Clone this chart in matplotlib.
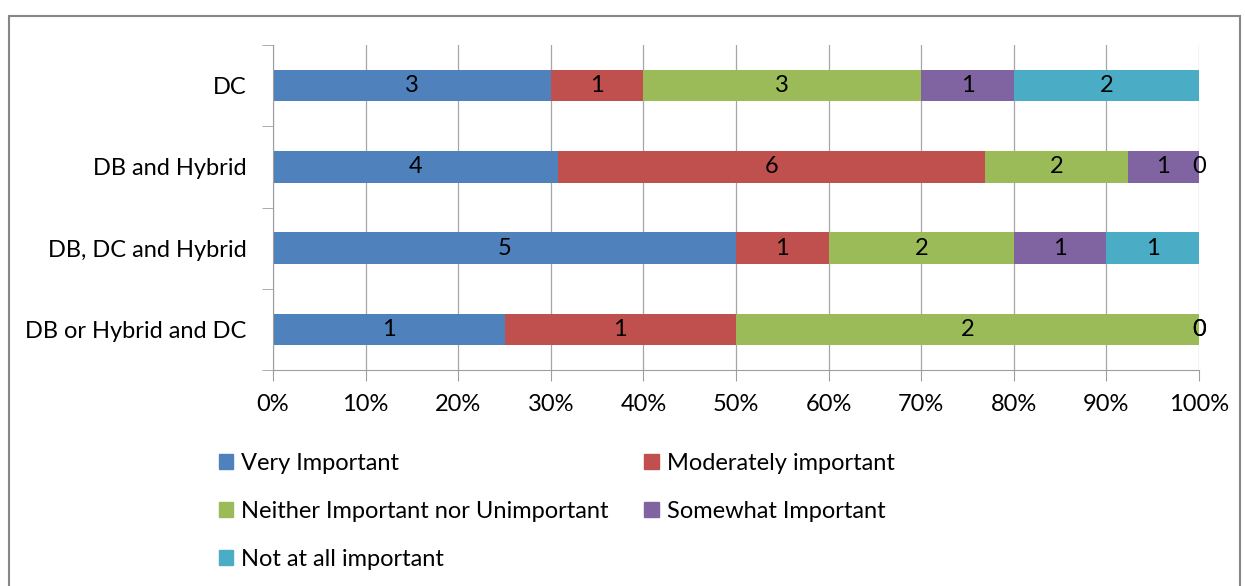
import matplotlib.pyplot as plt
from matplotlib.patches import Rectangle, Patch

plt.rcParams['font.family'] = ['Lato', 'DejaVu Sans']

categories = ['DC', 'DB and Hybrid', 'DB, DC and Hybrid', 'DB or Hybrid and DC']
series_names = ['Very Important', 'Moderately important',
                'Neither Important nor Unimportant', 'Somewhat Important',
                'Not at all important']
very = [3, 4, 5, 1]
moderately = [1, 6, 1, 1]
neither = [3, 2, 2, 2]
somewhat = [1, 1, 1, 0]
not_at_all = [2, 0, 1, 0]
xtick_labels = ['0%', '10%', '20%', '30%', '40%', '50%', '60%', '70%', '80%', '90%', '100%']

colors = ['#4F81BD', '#C0504D', '#9BBB59', '#8064A2', '#4BACC6']
series = [very, moderately, neither, somewhat, not_at_all]
fs = 17

fig = plt.figure(figsize=(12.45, 5.86), dpi=100)
ax = fig.add_axes([273 / 1245, 1 - 370 / 586, (1199 - 273) / 1245, (370 - 45) / 586])

totals = [sum(s[i] for s in series) for i in range(len(categories))]
ypos = list(range(len(categories)))
left = [0.0] * len(categories)
for vals, col in zip(series, colors):
    widths = [v / t for v, t in zip(vals, totals)]
    ax.barh(ypos, widths, left=left, height=0.39, color=col, zorder=2)
    for i, (v, w) in enumerate(zip(vals, widths)):
        ax.text(left[i] + w / 2, ypos[i], str(v), ha='center', va='center',
                fontsize=fs, color='black', zorder=3)
    left = [l + w for l, w in zip(left, widths)]

ax.set_xlim(0, 1)
ax.set_ylim(len(categories) - 0.5, -0.5)
ax.set_xticks([i / 10 for i in range(11)])
ax.set_xticklabels(xtick_labels, fontsize=fs)
ax.set_yticks(ypos)
ax.set_yticklabels(categories, fontsize=fs)
ax.set_yticks([i - 0.5 for i in range(len(categories) + 1)], minor=True)
ax.tick_params(axis='y', which='major', length=0, pad=19)
ax.tick_params(axis='y', which='minor', length=8, color='#9E9E9E', direction='out')
ax.tick_params(axis='x', length=8, color='#9E9E9E', pad=9)
ax.grid(axis='x', color='#A6A6A6', lw=0.9, zorder=0)
for side in ['top', 'right']:
    ax.spines[side].set_visible(False)
for side in ['left', 'bottom']:
    ax.spines[side].set_color('#9E9E9E')

handles = [Patch(color=c) for c in colors]
order = [0, 2, 4, 1, 3]
fig.legend([handles[i] for i in order], [series_names[i] for i in order],
           loc='upper left', bbox_to_anchor=(219 / 1245, 1 - 453 / 586),
           ncol=2, frameon=False, fontsize=fs, handlelength=0.6, handleheight=0.6,
           handletextpad=0.35, labelspacing=1.15, columnspacing=1.5,
           borderaxespad=0, borderpad=0)

fig.patches.append(Rectangle((9 / 1245, -0.05), (1240 - 9) / 1245, 1.05 - 16 / 586,
                             transform=fig.transFigure, fill=False,
                             edgecolor='#868686', lw=1.5))

fig.savefig('out.png', dpi=100)
